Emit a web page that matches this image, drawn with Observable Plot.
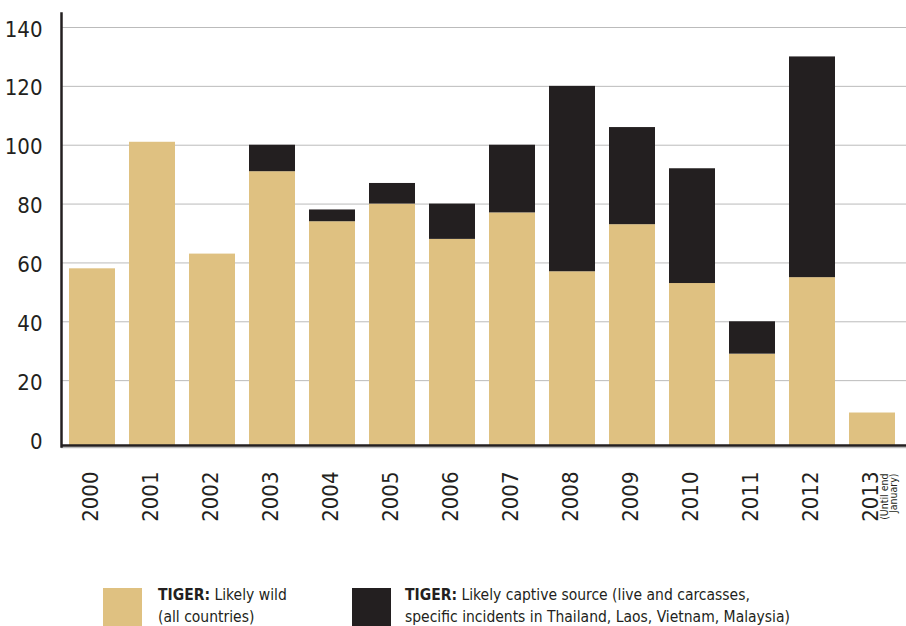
<!DOCTYPE html>
<html>
<head>
<meta charset="utf-8">
<script src="https://cdn.jsdelivr.net/npm/d3@7"></script>
<script src="https://cdn.jsdelivr.net/npm/@observablehq/plot@0.6"></script>
<style>
  html, body { margin: 0; padding: 0; background: #fff; }
  #wrap { width: 906px; height: 626px; position: relative; overflow: hidden; font-family: "DejaVu Sans Condensed", "Liberation Sans", sans-serif; color: #231f20; }
  #legend { position: relative; width: 906px; height: 86px; }
  .sw { position: absolute; width: 39px; height: 42px; }
  .lt { position: absolute; font-size: 15.5px; line-height: 22px; white-space: nowrap; }
  .lt b { font-weight: bold; }
</style>
</head>
<body>
<div id="wrap">
  <div id="chart"></div>
  <div id="legend"></div>
</div>
<script>
const years = ["2000","2001","2002","2003","2004","2005","2006","2007","2008","2009","2010","2011","2012","2013"];
const wild = [58, 101, 63, 91, 74, 80, 68, 77, 57, 73, 53, 29, 55, 9];
const captive = [0, 0, 0, 9, 4, 7, 12, 23, 63, 33, 39, 11, 75, 0];
const yTicks = [0, 20, 40, 60, 80, 100, 120, 140];
const gridTicks = [20, 40, 60, 80, 100, 120, 140];
const notes = [{year: "2013", text: "(Until end\nJanuary)"}];
const seriesNames = ["TIGER:", "TIGER:"];
const seriesLabels = ["Likely wild\n(all countries)", "Likely captive source (live and carcasses,\nspecific incidents in Thailand, Laos, Vietnam, Malaysia)"];
const colors = ["#dfc181", "#231f20"];

const rows = years.map((y, i) => ({year: y, wild: wild[i], captive: captive[i], total: wild[i] + captive[i]}));
const ink = "#231f20";
const font = "'DejaVu Sans Condensed', 'Liberation Sans', sans-serif";

const chart = Plot.plot({
  width: 906,
  height: 540,
  marginLeft: 61,
  marginRight: 3,
  marginTop: 27,
  marginBottom: 101,
  style: {fontFamily: font, color: ink, background: "#fff"},
  x: {type: "band", domain: years, paddingInner: 0.233, paddingOuter: 0.133, axis: null},
  y: {domain: [0, 140], axis: null},
  marks: [
    Plot.ruleY(gridTicks, {stroke: "#bbbbbb", strokeWidth: 1, insetRight: -3}),
    Plot.barY(rows, {x: "year", y1: 0, y2: "wild", fill: colors[0], insetBottom: -6}),
    Plot.barY(rows.filter(d => d.captive > 0), {x: "year", y1: "wild", y2: "total", fill: colors[1]}),
    Plot.ruleY([0], {stroke: "#bbbbbb", strokeWidth: 1.5, dy: 8, insetRight: -3}),
    Plot.ruleY([0], {stroke: ink, strokeWidth: 2.5, dy: 6, insetRight: -3}),
    Plot.frame({anchor: "left", stroke: ink, strokeWidth: 2.5, insetTop: -14, insetBottom: -7}),
    Plot.axisY(yTicks, {tickSize: 0, tickPadding: 19, fontSize: 22, dy: 2, fill: ink}),
    Plot.text(years, {x: d => d, frameAnchor: "bottom", rotate: -90, textAnchor: "end", lineAnchor: "middle", dy: 32, dx: -2, fontSize: 22, fill: ink}),
    Plot.text(notes, {x: "year", text: "text", frameAnchor: "bottom", rotate: -90, textAnchor: "end", lineAnchor: "top", lineHeight: 0.85, dy: 34, dx: 9, fontSize: 10.5, fill: ink})
  ]
});
document.getElementById("chart").appendChild(chart);

const legend = document.getElementById("legend");
const items = [
  {sw: 103, tx: 158},
  {sw: 352, tx: 405}
];
items.forEach((it, i) => {
  const s = document.createElement("div");
  s.className = "sw";
  s.style.left = it.sw + "px";
  s.style.top = "48px";
  s.style.background = colors[i];
  legend.appendChild(s);
  const t = document.createElement("div");
  t.className = "lt";
  t.style.left = it.tx + "px";
  t.style.top = "44px";
  const lines = seriesLabels[i].split("\n");
  t.innerHTML = "<b>" + seriesNames[i] + "</b> " + lines[0] + "<br>" + lines[1];
  legend.appendChild(t);
});
</script>
</body>
</html>
